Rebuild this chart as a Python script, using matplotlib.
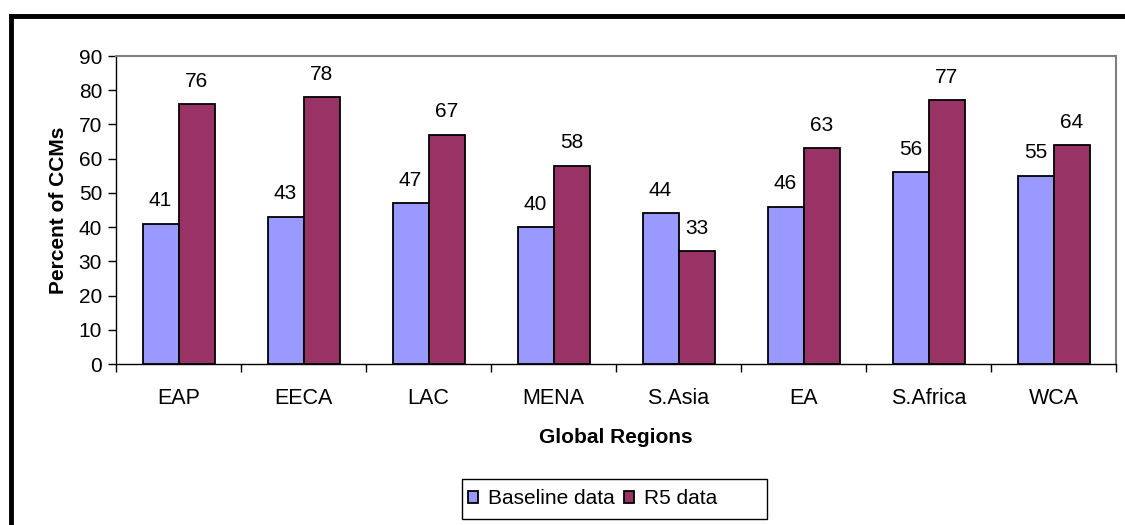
import numpy as np
import matplotlib.pyplot as plt
from matplotlib.lines import Line2D
from matplotlib.patches import Rectangle

plt.rcParams['font.family'] = ['Liberation Sans', 'DejaVu Sans']

# Дані
regions = ['EAP', 'EECA', 'LAC', 'MENA', 'S.Asia', 'EA', 'S.Africa', 'WCA']
baseline = [41, 43, 47, 40, 44, 46, 56, 55]
r5 = [76, 78, 67, 58, 33, 63, 77, 64]

W, H = 1125, 525
fig = plt.figure(figsize=(W / 100, H / 100), dpi=100)
ax = fig.add_axes([116 / W, 161 / H, 1000 / W, 308 / H])

x = np.arange(len(regions))
w = 0.288
b1 = ax.bar(x - w / 2, baseline, w, color='#9999FF', edgecolor='black', linewidth=1.3, label='Baseline data')
b2 = ax.bar(x + w / 2, r5, w, color='#993366', edgecolor='black', linewidth=1.3, label='R5 data')

for bars in (b1, b2):
    for rect in bars:
        h = rect.get_height()
        ax.annotate(f'{h:g}', (rect.get_x() + rect.get_width() / 2, h),
                    xytext=(0, 12.5), textcoords='offset points',
                    ha='center', va='baseline', fontsize=15)

ax.set_xlim(-0.5, len(regions) - 0.5)
ax.set_ylim(0, 90)
ax.set_yticks(range(0, 91, 10))
ax.set_xticks(x)
ax.set_xticklabels(regions)
ax.set_xticks(np.arange(-0.5, len(regions)), minor=True)
ax.tick_params(axis='x', which='major', length=0, pad=17, labelsize=15.5)
ax.tick_params(axis='x', which='minor', length=6, width=1, direction='out')
ax.tick_params(axis='y', length=6, width=1, direction='out', labelsize=15, pad=4)

for s in ('top', 'right'):
    ax.spines[s].set_color('#808080')
    ax.spines[s].set_linewidth(1.5)
for s in ('left', 'bottom'):
    ax.spines[s].set_color('black')
    ax.spines[s].set_linewidth(1)

ax.set_xlabel('Global Regions', fontsize=15, fontweight='bold', labelpad=14)
ax.set_ylabel('Percent of CCMs', fontsize=15, fontweight='bold', labelpad=8)

# Легенда: рамка окремо, як у Excel
fig.add_artist(Rectangle((462 / W, 1 - 519 / H), 305 / W, 40 / H, transform=fig.transFigure,
                         facecolor='white', edgecolor='black', linewidth=1, zorder=2))
leg = fig.legend(handles=[b1, b2], loc='center left', bbox_to_anchor=(462 / W, 1 - 499 / H),
                 ncol=2, fontsize=15, frameon=False, borderpad=0.3, borderaxespad=0,
                 handlelength=0.45, handleheight=0.45, handletextpad=0.5, columnspacing=0.45)
leg.set_zorder(3)

# Чорна рамка зверху і зліва
fig.add_artist(Line2D([10.5 / W, 1], [1 - 15.5 / H] * 2, color='black', linewidth=3.5))
fig.add_artist(Line2D([10.5 / W] * 2, [0, 1 - 15.5 / H], color='black', linewidth=3.5))

fig.savefig('out.png', dpi=100)
